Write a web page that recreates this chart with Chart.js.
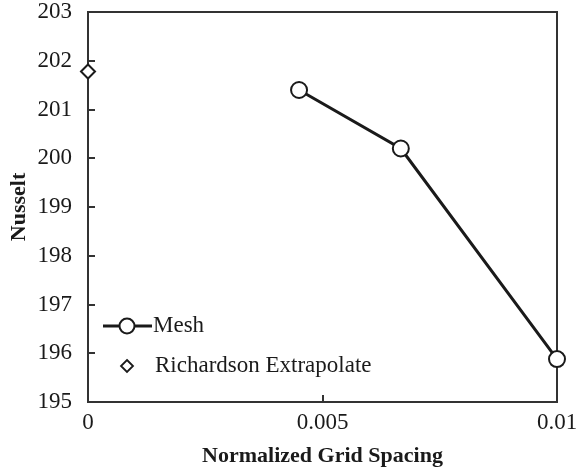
<!DOCTYPE html>
<html>
<head>
<meta charset="utf-8">
<script src="https://cdn.jsdelivr.net/npm/chart.js@4.4.0/dist/chart.umd.min.js"></script>
<style>
html,body{margin:0;padding:0;background:#fff;}
#wrap{width:583px;height:471px;position:relative;}
</style>
</head>
<body>
<div id="wrap"><canvas id="c" width="583" height="471"></canvas></div>
<script>
const meshX = [0.0045, 0.00667, 0.01];
const meshY = [201.4, 200.2, 195.88];
const richX = [0];
const richY = [201.78];
const xTicks = [0, 0.005, 0.01];
const xTickLabels = ['0', '0.005', '0.01'];
const yTicks = [195, 196, 197, 198, 199, 200, 201, 202, 203];
const seriesLabels = ['Mesh', 'Richardson Extrapolate'];

const FONT = "'Liberation Serif', 'Times New Roman', serif";
const INK = '#1a1a1a';

const frameAndTicks = {
  id: 'frameAndTicks',
  beforeDatasetsDraw(chart) {
    const ctx = chart.ctx, a = chart.chartArea;
    const xs = chart.scales.x, ys = chart.scales.y;
    ctx.save();
    ctx.strokeStyle = '#333';
    ctx.lineWidth = 2;
    ctx.strokeRect(a.left, a.top, a.right - a.left, a.bottom - a.top);
    ctx.beginPath();
    yTicks.forEach(v => {
      if (v === 195 || v === 203) return;
      const y = Math.round(ys.getPixelForValue(v));
      ctx.moveTo(a.left, y); ctx.lineTo(a.left + 7, y);
    });
    xTicks.forEach(v => {
      if (v === 0 || v === 0.01) return;
      const x = Math.round(xs.getPixelForValue(v));
      ctx.moveTo(x, a.bottom); ctx.lineTo(x, a.bottom - 7);
    });
    ctx.stroke();
    ctx.restore();
  }
};

const customLegend = {
  id: 'customLegend',
  afterDraw(chart) {
    const ctx = chart.ctx;
    ctx.save();
    ctx.font = '23px ' + FONT;
    ctx.textBaseline = 'middle';
    // Mesh
    let y = 326;
    ctx.strokeStyle = INK; ctx.lineWidth = 3;
    ctx.beginPath(); ctx.moveTo(103, y); ctx.lineTo(152, y); ctx.stroke();
    ctx.beginPath(); ctx.arc(127, y, 7.5, 0, Math.PI * 2);
    ctx.fillStyle = '#fff'; ctx.fill();
    ctx.lineWidth = 2; ctx.stroke();
    ctx.fillStyle = INK;
    ctx.fillText(seriesLabels[0], 153, y);
    // Richardson
    y = 366;
    const r = 6;
    ctx.beginPath();
    ctx.moveTo(127, y - r); ctx.lineTo(127 + r, y); ctx.lineTo(127, y + r); ctx.lineTo(127 - r, y); ctx.closePath();
    ctx.fillStyle = '#fff'; ctx.fill();
    ctx.lineWidth = 1.8; ctx.stroke();
    ctx.fillStyle = INK;
    ctx.fillText(seriesLabels[1], 155, y);
    ctx.restore();
  }
};

new Chart(document.getElementById('c'), {
  type: 'scatter',
  data: {
    datasets: [
      {
        label: seriesLabels[0],
        data: meshX.map((x, i) => ({x, y: meshY[i]})),
        showLine: true,
        borderColor: INK,
        borderWidth: 3,
        pointRadius: 8,
        pointHoverRadius: 8,
        pointBorderWidth: 2,
        pointBackgroundColor: '#fff',
        pointBorderColor: INK,
        clip: false
      },
      {
        label: seriesLabels[1],
        data: richX.map((x, i) => ({x, y: richY[i]})),
        showLine: false,
        pointStyle: 'rectRot',
        pointRadius: 7,
        pointHoverRadius: 7,
        pointBorderWidth: 2,
        pointBackgroundColor: '#fff',
        pointBorderColor: INK,
        clip: false
      }
    ]
  },
  options: {
    responsive: false,
    animation: false,
    events: [],
    layout: { padding: { top: 12, right: 26, left: 0, bottom: 0 } },
    plugins: { legend: { display: false }, tooltip: { enabled: false } },
    scales: {
      x: {
        type: 'linear',
        min: 0, max: 0.01,
        afterFit(s) { s.height = 69; s.paddingLeft = 0; s.paddingRight = 0; },
        afterBuildTicks(s) { s.ticks = xTicks.map(v => ({value: v})); },
        grid: { display: true, drawOnChartArea: false, drawTicks: false },
        border: { display: true, color: '#333', width: 2 },
        ticks: {
          padding: 7,
          color: INK,
          font: { family: FONT, size: 23 },
          maxRotation: 0,
          callback: (v) => { const i = xTicks.indexOf(v); return i >= 0 ? xTickLabels[i] : ''; }
        },
        title: {
          display: true, text: 'Normalized Grid Spacing', color: INK,
          font: { family: FONT, size: 22, weight: 'bold' },
          padding: { top: 0, bottom: 1 }
        }
      },
      y: {
        type: 'linear',
        min: 195, max: 203,
        afterFit(s) { s.width = 88; s.paddingTop = 0; s.paddingBottom = 0; },
        afterBuildTicks(s) { s.ticks = yTicks.map(v => ({value: v})); },
        grid: { display: true, drawOnChartArea: false, drawTicks: false },
        border: { display: true, color: '#333', width: 2 },
        ticks: {
          padding: 16,
          color: INK,
          font: { family: FONT, size: 23 },
          callback: (v) => String(v)
        },
        title: {
          display: true, text: 'Nusselt', color: INK,
          font: { family: FONT, size: 22, weight: 'bold' },
          padding: { top: 6, bottom: 0 }
        }
      }
    }
  },
  plugins: [frameAndTicks, customLegend]
});
</script>
</body>
</html>
